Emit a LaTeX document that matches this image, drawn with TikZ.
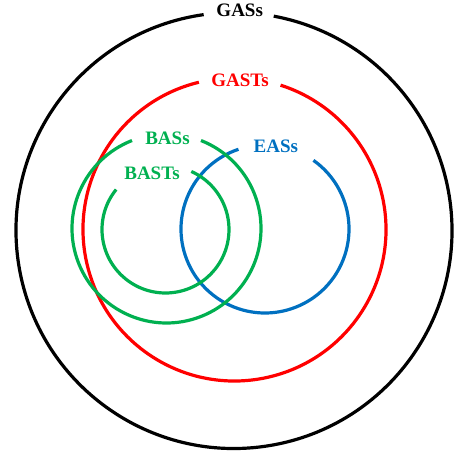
\documentclass[tikz,border=0pt]{standalone}
\usepackage{fontspec}
\setmainfont{Liberation Serif}
\definecolor{gasred}{RGB}{255,0,0}
\definecolor{basgreen}{RGB}{0,176,80}
\definecolor{easblue}{RGB}{0,112,192}
\tikzset{
  ring/.style={line width=3.2pt},
  setlabel/.style={font=\fontsize{19}{19}\selectfont\bfseries, inner sep=0pt, text depth=0pt}
}
\begin{document}
\begin{tikzpicture}[x=1pt,y=1pt]
\useasboundingbox (0,0) rectangle (456,453);
% centres
\coordinate (cgas) at (234,222.5);
\coordinate (cgast) at (234.5,223.5);
\coordinate (cbas) at (166.5,224.5);
\coordinate (cbast) at (165.5,223.5);
\coordinate (ceas) at (265,224);
% rings
\draw[ring, black] (cgas) ++(98:218) arc[start angle=98, end angle=439.5, radius=218];
\draw[ring, gasred] (cgast) ++(103.6:151.5) arc[start angle=103.6, end angle=432.3, radius=151.5];
\draw[ring, easblue] (ceas) ++(108.4:84) arc[start angle=108.4, end angle=414.8, radius=84];
\draw[ring, basgreen] (cbas) ++(111.4:94.5) arc[start angle=111.4, end angle=428.6, radius=94.5];
\draw[ring, basgreen] (cbast) ++(141:63.5) arc[start angle=141, end angle=426, radius=63.5];
% labels
\node[setlabel, text=black] (lgas) at (239.7,443) {GASs};
\node[setlabel, text=gasred] (lgast) at (240,373) {GASTs};
\node[setlabel, text=basgreen] (lbas) at (167.5,315) {BASs};
\node[setlabel, text=basgreen] (lbast) at (152,280) {BASTs};
\node[setlabel, text=easblue] (leas) at (275.8,306.7) {EASs};
\end{tikzpicture}
\end{document}
